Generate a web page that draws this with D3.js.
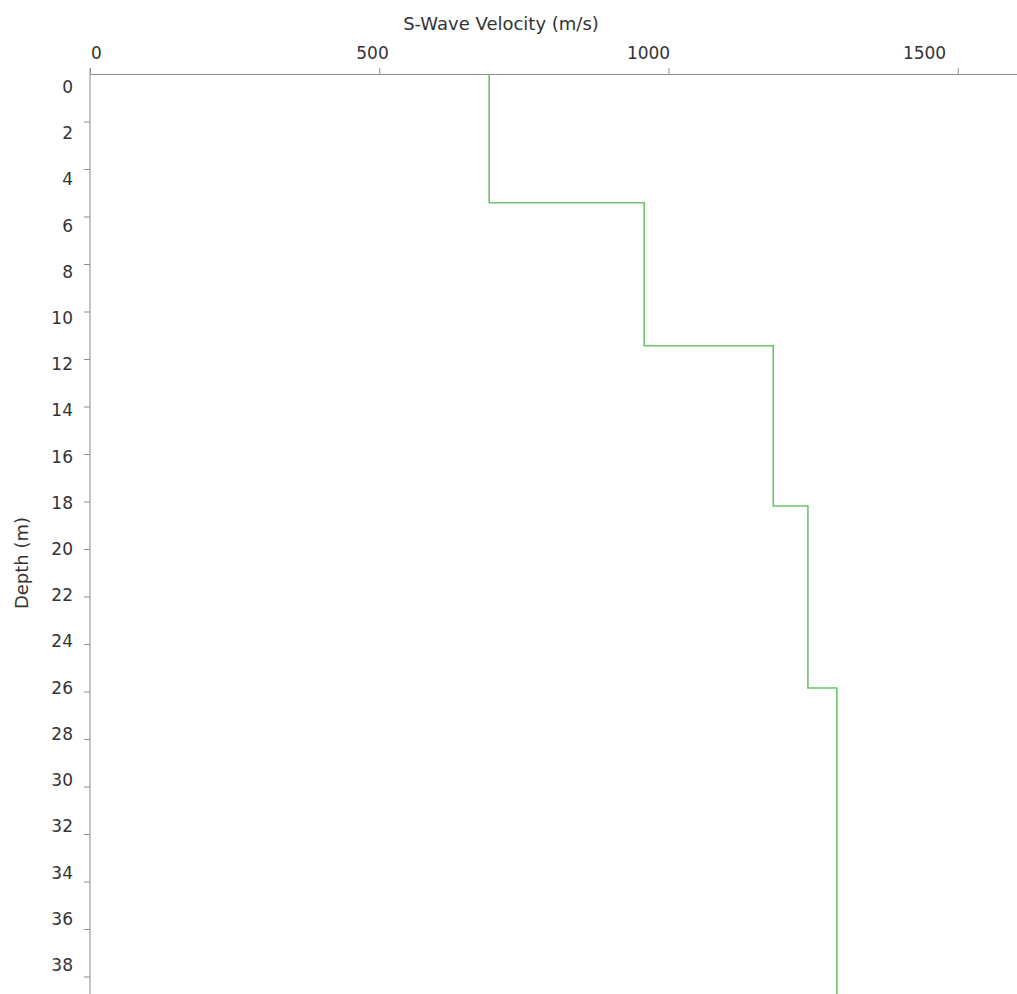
<!DOCTYPE html>
<html>
<head>
<meta charset="utf-8">
<script src="https://cdn.jsdelivr.net/npm/d3@7"></script>
<style>
  html, body { margin: 0; padding: 0; background: #fff; }
  svg { display: block; }
  text { font-family: "DejaVu Sans", sans-serif; fill: #333; }
</style>
</head>
<body>
<svg id="chart" width="1017" height="994"></svg>
<script>
  // Layer velocities (m/s) and the depth (m) where each layer starts.
  const velocity = [690, 958, 1181, 1241, 1291];
  const layerTop = [0, 5.42, 11.44, 18.19, 25.85];
  const maxDepth = 40;

  // Tick values.
  const xTicks = [0, 500, 1000, 1500];
  const yTicks = [0, 2, 4, 6, 8, 10, 12, 14, 16, 18, 20, 22, 24, 26, 28, 30, 32, 34, 36, 38];

  const svg = d3.select('#chart');
  const axisColor = '#8c8c8c';
  const tickFont = 17;

  // Scales used for the marks and tick marks.
  const x = d3.scaleLinear().domain([0, 1605]).range([90, 90 + 1605 * 0.5785]);
  const y = d3.scaleLinear().domain([0, maxDepth]).range([74, 74 + maxDepth * 23.75]);

  // The labels in the original sit on a slightly compressed scale.
  const xLabel = d3.scaleLinear().domain([0, 1500]).range([96, 924]);
  const yLabel = d3.scaleLinear().domain([0, 38]).range([87, 965]);

  // Top axis: line and tick marks.
  const xAxis = svg.append('g')
    .attr('transform', 'translate(0,74)')
    .call(d3.axisTop(x).tickValues(xTicks).tickSize(6).tickSizeOuter(0).tickFormat(''));
  xAxis.selectAll('path, line').attr('stroke', axisColor);

  // Top axis labels.
  const xLab = svg.append('g')
    .attr('transform', 'translate(0,59)')
    .call(d3.axisTop(xLabel).tickValues(xTicks).tickSize(0).tickPadding(0).tickFormat(d3.format('d')));
  xLab.select('.domain').remove();
  xLab.selectAll('text')
    .attr('font-family', '"DejaVu Sans", sans-serif')
    .attr('font-size', tickFont)
    .attr('fill', '#333');

  // Left axis: line and tick marks.
  const yAxis = svg.append('g')
    .attr('transform', 'translate(90,0)')
    .call(d3.axisLeft(y).tickValues(yTicks.filter(d => d > 0)).tickSize(6).tickSizeOuter(0).tickFormat(''));
  yAxis.select('.domain').attr('d', 'M0,68V994');
  yAxis.selectAll('path, line').attr('stroke', axisColor);

  // Left axis labels.
  const yLab = svg.append('g')
    .attr('transform', 'translate(73,0)')
    .call(d3.axisLeft(yLabel).tickValues(yTicks).tickSize(0).tickPadding(0).tickFormat(d3.format('d')));
  yLab.select('.domain').remove();
  yLab.selectAll('text')
    .attr('font-family', '"DejaVu Sans", sans-serif')
    .attr('font-size', tickFont)
    .attr('fill', '#333');

  // Axis titles.
  svg.append('text')
    .attr('x', 501)
    .attr('y', 24)
    .attr('dy', '0.35em')
    .attr('text-anchor', 'middle')
    .attr('font-size', 18)
    .text('S-Wave Velocity (m/s)');

  svg.append('text')
    .attr('transform', 'translate(22,563) rotate(-90)')
    .attr('dy', '0.35em')
    .attr('text-anchor', 'middle')
    .attr('font-size', 18)
    .text('Depth (m)');

  // Step profile: each layer is a vertical segment, joined by horizontal steps.
  const profile = [];
  velocity.forEach(function(v, i) {
    const bottom = i < velocity.length - 1 ? layerTop[i + 1] : maxDepth;
    profile.push([v, layerTop[i]]);
    profile.push([v, bottom]);
  });

  const line = d3.line()
    .x(function(d) { return x(d[0]); })
    .y(function(d) { return y(d[1]); });

  svg.append('path')
    .datum(profile)
    .attr('d', line)
    .attr('fill', 'none')
    .attr('stroke', '#6cc46c')
    .attr('stroke-width', 1.6);
</script>
</body>
</html>
